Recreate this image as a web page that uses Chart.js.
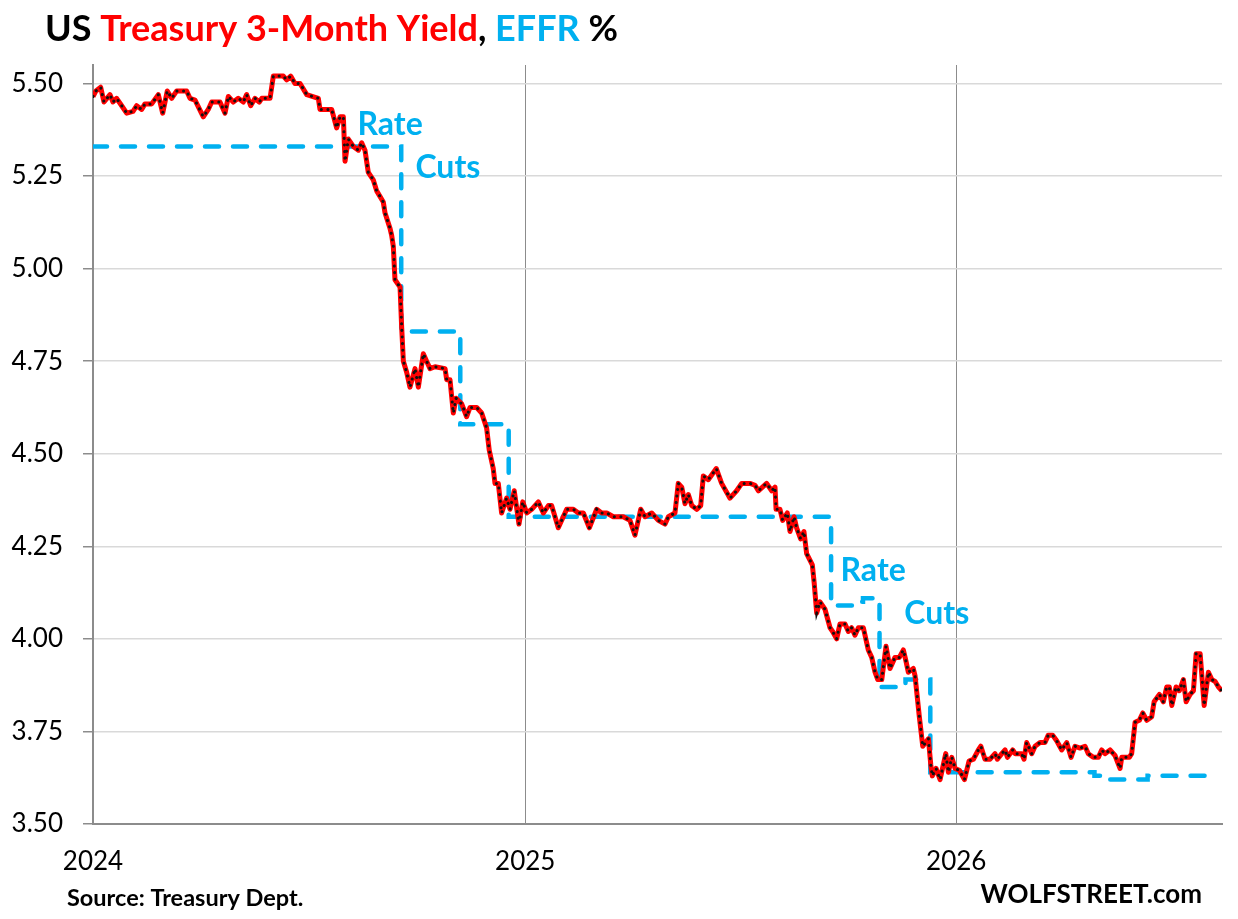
<!DOCTYPE html>
<html>
<head>
<meta charset="utf-8">
<script src="https://cdn.jsdelivr.net/npm/chart.js@4.4.1/dist/chart.umd.min.js"></script>
<style>
  body { margin: 0; background: #fff; }
  #wrap { width: 1238px; height: 919px; }
</style>
</head>
<body>
<div id="wrap"><canvas id="myChart" width="1238" height="919"></canvas></div>
<script>
// days counted from 2024-01-01
const billDays = [0, 2.5, 6.5, 9.3, 14.4, 16.9, 20, 24.3, 28.5, 33.9, 37, 41.2, 44, 49.7, 55.3, 59, 62.9, 66.6, 70.9, 79.3,
  82.1, 86.4, 93.4, 97.6, 100.5, 107.5, 111.8, 114.6, 118.8, 123, 127.3, 130.1, 133.5, 137.2, 140.8, 142.9, 149.9, 152.7, 161.2, 164,
  167.4, 171, 175.3, 181, 190.8, 192.2, 202.1, 206.3, 209.2, 212, 213.4, 216.2, 220.4, 224.7, 227.5, 230.3, 233.1, 237.3, 240.2, 245.8,
  247.3, 251.4, 252.9, 254.3, 255.7, 260, 261.4, 262.8, 265.6, 268.4, 272.7, 275.5, 279.7, 282.5, 285.4, 289.6, 298.1, 299.5, 302.3, 305.1,
  307.4, 312.2, 316.4, 319.2, 324.9, 329.1, 333.3, 335.5, 338.9, 340.4, 343.2, 344.6, 346, 350.2, 353.1, 356.7, 360.7, 363.9, 367.3, 371.5,
  377.1, 381.3, 385.6, 388.4, 394, 401.1, 406.7, 411, 415.2, 420.3, 426.5, 430.7, 435, 440.6, 449, 454.7, 458.9, 463.8, 467.4, 473.1,
  478.7, 484.4, 487.2, 492.8, 495.6, 498.5, 501.3, 504.1, 507, 511.2, 514.6, 516.8, 521, 527.8, 532.3, 539.4, 545, 549.3, 556.3, 560.6,
  563.4, 570.4, 574.7, 577.5, 578.4, 581.7, 584, 587.9, 590.2, 593.6, 595.8, 599.2, 602, 604.3, 609.1, 610.7, 612.8, 615.6, 619.8, 624.1,
  626.3, 629.7, 632.5, 636.8, 639.6, 642.4, 645.2, 648.1, 652.3, 656.5, 659.4, 662.2, 664.5, 667.9, 671.5, 674.9, 679.1, 682.8, 686.2, 688.4,
  690.4, 694.6, 696.1, 699.7, 702.6, 707.4, 709.4, 710.7, 713.9, 717.3, 722.1, 724.3, 727.2, 730, 733.6, 737.9, 741.8, 745.5, 749.7, 751.8,
  755.3, 759.6, 763.8, 765.8, 769.5, 772.3, 774.3, 778.8, 780.8, 786.4, 788.4, 790.6, 794.9, 797.7, 801.9, 806.1, 808.9, 812.6, 816, 820.3,
  824.5, 828.2, 831.5, 835.8, 840, 842.8, 847, 851.3, 854.1, 856.9, 861.2, 865.4, 869.7, 871.1, 877.5, 879.5, 882.4, 886, 888.9, 892.3,
  896.5, 898.5, 903, 906.3, 909.2, 911.4, 913.5, 917.1, 919.9, 923.3, 925.6, 929, 931.8, 934.1, 937.5, 940.9, 944.5, 947.4, 950.2, 953,
  955.9];
const billYields = [5.465, 5.48, 5.49, 5.45, 5.47, 5.45, 5.46, 5.44, 5.42, 5.425, 5.44, 5.43, 5.445, 5.445, 5.47, 5.42, 5.48, 5.46, 5.48, 5.48,
  5.46, 5.455, 5.41, 5.43, 5.45, 5.45, 5.42, 5.465, 5.45, 5.46, 5.45, 5.47, 5.44, 5.46, 5.45, 5.46, 5.46, 5.52, 5.52, 5.51,
  5.52, 5.50, 5.50, 5.47, 5.46, 5.43, 5.43, 5.38, 5.41, 5.41, 5.29, 5.35, 5.33, 5.32, 5.34, 5.32, 5.26, 5.24, 5.21, 5.18,
  5.15, 5.11, 5.09, 5.06, 4.97, 4.95, 4.84, 4.75, 4.72, 4.68, 4.73, 4.68, 4.77, 4.75, 4.73, 4.735, 4.73, 4.70, 4.70, 4.61,
  4.65, 4.635, 4.60, 4.625, 4.625, 4.61, 4.57, 4.51, 4.46, 4.42, 4.42, 4.38, 4.34, 4.38, 4.35, 4.40, 4.31, 4.37, 4.34, 4.35,
  4.37, 4.34, 4.36, 4.36, 4.30, 4.35, 4.35, 4.34, 4.34, 4.30, 4.35, 4.34, 4.34, 4.33, 4.33, 4.32, 4.28, 4.35, 4.33, 4.34,
  4.32, 4.31, 4.33, 4.34, 4.42, 4.41, 4.365, 4.39, 4.36, 4.35, 4.36, 4.44, 4.43, 4.46, 4.42, 4.38, 4.40, 4.42, 4.42, 4.415,
  4.40, 4.42, 4.40, 4.41, 4.35, 4.35, 4.32, 4.34, 4.29, 4.33, 4.30, 4.27, 4.29, 4.23, 4.20, 4.15, 4.07, 4.10, 4.08, 4.03,
  4.02, 4.00, 4.04, 4.04, 4.02, 4.03, 4.01, 4.03, 4.03, 3.97, 3.95, 3.91, 3.89, 3.89, 3.98, 3.92, 3.95, 3.95, 3.97, 3.94,
  3.91, 3.92, 3.90, 3.79, 3.71, 3.73, 3.66, 3.63, 3.65, 3.62, 3.69, 3.64, 3.68, 3.65, 3.645, 3.62, 3.67, 3.675, 3.70, 3.71,
  3.675, 3.675, 3.69, 3.675, 3.69, 3.70, 3.68, 3.70, 3.69, 3.69, 3.675, 3.72, 3.69, 3.71, 3.72, 3.72, 3.74, 3.74, 3.725, 3.70,
  3.72, 3.68, 3.71, 3.705, 3.71, 3.69, 3.68, 3.68, 3.70, 3.69, 3.70, 3.685, 3.65, 3.68, 3.68, 3.69, 3.775, 3.78, 3.80, 3.78,
  3.79, 3.83, 3.85, 3.83, 3.87, 3.87, 3.82, 3.87, 3.86, 3.89, 3.83, 3.85, 3.86, 3.96, 3.96, 3.82, 3.91, 3.89, 3.885, 3.87,
  3.86];

// effective fed funds rate, value holds until the next change
const effrDays = [0, 261, 311, 352, 625, 645, 652, 666, 688, 709, 848, 856, 893, 949];
const effrRates = [5.33, 4.83, 4.58, 4.33, 4.09, 4.10, 4.11, 3.87, 3.89, 3.64, 3.63, 3.62, 3.63, 3.63];

const yearTicks = [0, 366, 731];
const yearLabels = ["2024", "2025", "2026"];
const yTicks = [3.5, 3.75, 4.0, 4.25, 4.5, 4.75, 5.0, 5.25, 5.5];

const noteTexts = ["Rate", "Cuts", "Rate", "Cuts"];
const noteDays = [224, 273, 633, 687];
const noteValues = [5.388, 5.272, 4.183, 4.067];

const RED = "#FF0000";
const BLUE = "#00B0F0";
const FONT = "Lato";

const billPoints = billDays.map((d, i) => ({x: d, y: billYields[i]}));
const effrPoints = effrDays.map((d, i) => ({x: d, y: effrRates[i]}));

// title, source and the "Rate Cuts" notes
const textPlugin = {
    id: "texts",
    afterDraw(chart) {
        const c = chart.ctx;
        const xs = chart.scales.x;
        const ys = chart.scales.y;
        c.save();
        c.textBaseline = "alphabetic";

        c.font = "bold 36px " + FONT;
        let parts = [["US ", "#000"], ["Treasury 3-Month Yield", RED], [", ", "#000"], ["EFFR", BLUE], [" %", "#000"]];
        let x = 45;
        parts.forEach(p => {
            c.fillStyle = p[1];
            c.fillText(p[0], x, 41);
            x += c.measureText(p[0]).width;
        });

        c.fillStyle = "#000";
        c.font = "bold 23.5px " + FONT;
        c.textAlign = "left";
        c.fillText("Source: Treasury Dept.", 67, 906);
        c.font = "bold 26px " + FONT;
        c.textAlign = "right";
        c.fillText("WOLFSTREET.com", 1202, 903);

        c.textAlign = "left";
        c.textBaseline = "middle";
        c.fillStyle = BLUE;
        c.font = "bold 32px " + FONT;
        noteTexts.forEach((t, i) => {
            c.fillText(t, xs.getPixelForValue(noteDays[i]), ys.getPixelForValue(noteValues[i]));
        });
        c.restore();
    }
};

const ctx = document.getElementById("myChart").getContext("2d");

const myChart = new Chart(ctx, {
    type: "line",
    data: {
        datasets: [
            {
                label: "dots",
                data: billPoints,
                borderColor: "#111",
                borderWidth: 3,
                borderDash: [0.1, 6.5],
                borderCapStyle: "round",
                pointRadius: 0,
                order: 1
            },
            {
                label: "US Treasury 3-Month Yield",
                data: billPoints,
                borderColor: RED,
                borderWidth: 5,
                borderJoinStyle: "round",
                pointRadius: 0,
                order: 2
            },
            {
                label: "EFFR",
                data: effrPoints,
                borderColor: BLUE,
                borderWidth: 4.5,
                borderDash: [14, 14],
                borderCapStyle: "round",
                stepped: true,
                pointRadius: 0,
                order: 3
            }
        ]
    },
    options: {
        responsive: false,
        animation: false,
        devicePixelRatio: 1,
        layout: {
            padding: {top: 65, right: 16, left: 0, bottom: 0}
        },
        plugins: {
            legend: {display: false},
            tooltip: {enabled: false}
        },
        scales: {
            x: {
                type: "linear",
                min: 0,
                max: 956,
                afterBuildTicks: (scale) => {
                    scale.ticks = yearTicks.map(v => ({value: v}));
                },
                afterFit: (scale) => {
                    scale.height = 95;
                },
                ticks: {
                    autoSkip: false,
                    maxRotation: 0,
                    padding: 22,
                    color: "#000",
                    font: {family: FONT, size: 26},
                    callback: (v, i) => yearLabels[i]
                },
                grid: {
                    drawTicks: false,
                    color: (c) => c.tick && c.tick.value === 0 ? "rgba(0,0,0,0)" : "#8c8c8c",
                    lineWidth: 1
                },
                border: {color: "#8c8c8c", width: 2}
            },
            y: {
                min: 3.5,
                max: 5.55,
                afterBuildTicks: (scale) => {
                    scale.ticks = yTicks.map(v => ({value: v}));
                },
                afterFit: (scale) => {
                    scale.width = 93;
                },
                ticks: {
                    padding: 20,
                    color: "#000",
                    font: {family: FONT, size: 26},
                    callback: (v) => v.toFixed(2)
                },
                grid: {
                    color: "#d9d9d9",
                    lineWidth: 1.5,
                    tickColor: "#8c8c8c",
                    tickLength: 10
                },
                border: {color: "#8c8c8c", width: 2}
            }
        }
    },
    plugins: [textPlugin]
});
</script>
</body>
</html>
